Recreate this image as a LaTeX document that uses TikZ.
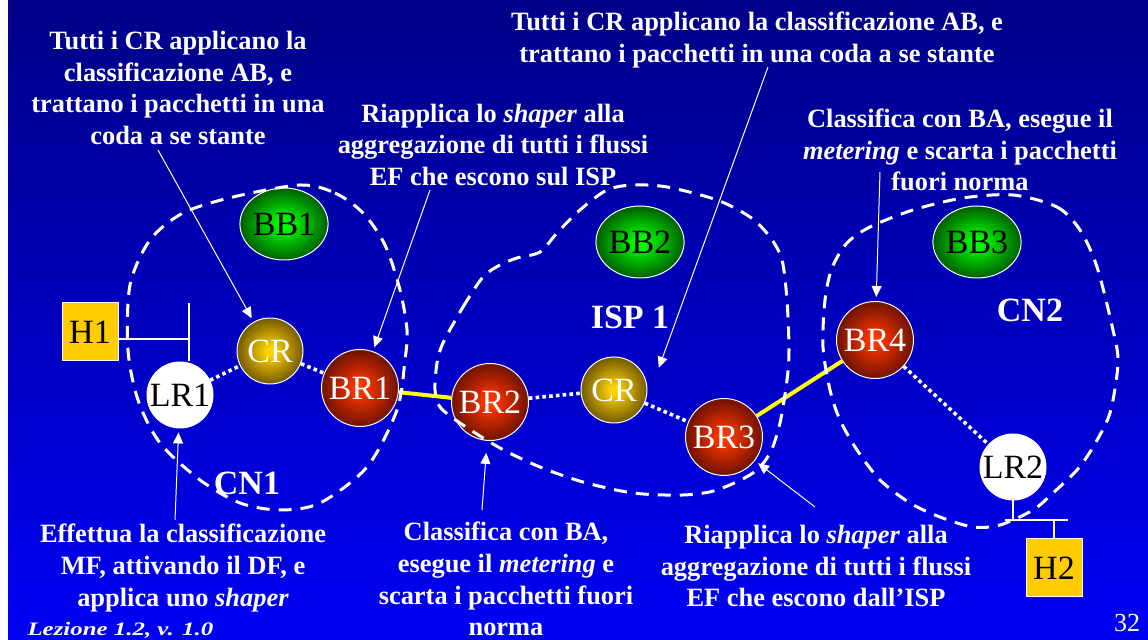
\documentclass[tikz,border=0pt]{standalone}
\usepackage{fontspec}
\setmainfont{Liberation Serif}
\usetikzlibrary{shapes.geometric,arrows.meta}
\definecolor{bghi}{RGB}{0,0,135}
\definecolor{bglo}{RGB}{0,0,245}
\definecolor{brhi}{RGB}{255,55,0}
\definecolor{brlo}{RGB}{110,18,0}
\definecolor{crhi}{RGB}{255,210,0}
\definecolor{crlo}{RGB}{115,90,0}
\definecolor{bbhi}{RGB}{0,255,0}
\definecolor{bblo}{RGB}{0,95,0}
\definecolor{hostcol}{RGB}{255,204,0}
\definecolor{linkcol}{RGB}{255,255,0}
\pgfdeclareradialshading{brball}{\pgfpoint{0bp}{0bp}}{color(0bp)=(brhi); color(3bp)=(brhi); color(25bp)=(brlo); color(50bp)=(brlo)}
\pgfdeclareradialshading{crball}{\pgfpoint{0bp}{0bp}}{color(0bp)=(crhi); color(3bp)=(crhi); color(25bp)=(crlo); color(50bp)=(crlo)}
\pgfdeclareradialshading{bbball}{\pgfpoint{0bp}{0bp}}{color(0bp)=(bbhi); color(3bp)=(bbhi); color(25bp)=(bblo); color(50bp)=(bblo)}

\begin{document}
\begin{tikzpicture}[x=0.5pt,y=-0.5pt,
    router/.style={circle,draw=white,line width=0.5pt,inner sep=0pt,font=\fontsize{17}{17}\selectfont},
    br/.style={router,shade,shading=brball,minimum size=38.5pt,text=white},
    cr/.style={router,shade,shading=crball,minimum size=33pt,text=white},
    lr/.style={router,fill=white,minimum size=33pt,text=black},
    bb/.style={ellipse,draw=white,line width=0.5pt,inner sep=0pt,shade,shading=bbball,
      minimum width=39.5pt,minimum height=36pt,font=\fontsize{17}{17}\selectfont},
    host/.style={draw=white,line width=0.5pt,fill=hostcol,minimum width=28pt,minimum height=29pt,
      inner sep=0pt,font=\fontsize{17}{17}\selectfont},
    note/.style={text=white,align=center,inner sep=0pt,font=\fontsize{13.2}{15.9}\selectfont\bfseries},
    area/.style={text=white,inner sep=0pt,font=\fontsize{17}{17}\selectfont\bfseries},
    cloud/.style={white,line width=1.5pt,dash pattern=on 6.5pt off 4.5pt},
    intra/.style={white,line width=1.8pt,dash pattern=on 1.8pt off 1.6pt},
    trunk/.style={linkcol,line width=2pt},
    wire/.style={white,line width=1pt},
    pointer/.style={white,line width=0.5pt,-{Triangle[length=5.5pt,width=5pt]},shorten >=2pt}]

% backdrop
\useasboundingbox (0,0) rectangle (1148,640);
\fill[white] (0,0) rectangle (8,640);
\shade[top color=bghi,bottom color=bglo] (8,0) rectangle (1148,640);

% routers and bandwidth brokers
\node[lr] (lr1) at (180,395) {LR1};
\node[cr] (cr1) at (270,351) {CR};
\node[br] (br1) at (360,388) {BR1};
\node[bb] (bb1) at (284,224) {BB1};
\node[br] (br2) at (490,402) {BR2};
\node[cr] (cr2) at (614,390) {CR};
\node[br] (br3) at (724,437) {BR3};
\node[bb] (bb2) at (640,242) {BB2};
\node[br] (br4) at (875,340) {BR4};
\node[lr] (lr2) at (1013,467) {LR2};
\node[bb] (bb3) at (977,242) {BB3};

% hosts
\node[host] (h1) at (90,332) {H1};
\node[host] (h2) at (1054,568) {H2};
\coordinate (t1) at (189,303);
\coordinate (t2) at (1013,520);
\draw[wire] (t1) -- (t1 |- lr1.north);
\draw[wire] ([yshift=-3.5pt]h1.east) -- ([yshift=-3.5pt]h1.east -| t1);
\draw[wire] (lr2.south) -- (t2);
\draw[wire] ([xshift=-4pt]t2) -- ([xshift=27.5pt]t2);
\draw[wire] (h2.north) -- (h2.north |- t2);

% links
\draw[intra] (lr1) -- (cr1);
\draw[intra] (cr1) -- (br1);
\draw[trunk] (br1) -- (br2);
\draw[intra] (br2) -- (cr2);
\draw[intra] (cr2) -- (br3);
\draw[trunk] (br3) -- (br4);
\draw[intra] (br4) -- (lr2);

% domain borders
\draw[cloud] plot[smooth cycle] coordinates {(300,185) (335,193) (363,213) (385,245) (400,290)
  (407,330) (405,360) (397,410) (367,467) (320,503) (280,510) (240,503) (200,480) (160,443)
  (138,400) (128,350) (130,285) (150,240) (183,213) (233,197)};
\draw[cloud] plot[smooth cycle] coordinates {(443,343) (463,307) (483,277) (500,265) (517,258)
  (540,252) (557,233) (580,210) (607,190) (633,185) (667,187) (717,200) (750,217) (770,237)
  (782,260) (787,300) (789,350) (787,380) (780,423) (770,453) (753,473) (717,490) (683,495)
  (633,493) (583,482) (540,467) (500,448) (460,423) (440,407) (435,390) (437,363)};
\draw[cloud] plot[smooth cycle] coordinates {(1013,195) (1057,207) (1080,230) (1097,267)
  (1113,330) (1118,363) (1110,413) (1093,447) (1077,470) (1053,493) (1033,510) (1000,525)
  (973,527) (940,517) (910,503) (880,480) (857,450) (840,420) (830,390) (823,347) (825,300)
  (832,268) (847,243) (870,227) (913,210) (963,198)};

\node[area] (cn1) at (247,483) {CN1};
\node[area] (isp) at (630,317) {ISP 1};
\node[area] (cn2) at (1030,310) {CN2};

% notes
\node[note] (n1) at (178,88) {Tutti i CR applicano la\\classificazione AB, e\\trattano i pacchetti in una\\coda a se stante};
\node[note] (n2) at (493,145) {Riapplica lo \textit{shaper} alla\\aggregazione di tutti i flussi\\EF che escono sul ISP};
\node[note] (n3) at (757,40) {Tutti i CR applicano la classificazione AB, e\\trattano i pacchetti in una coda a se stante};
\node[note] (n4) at (960,150) {Classifica con BA, esegue il\\\textit{metering} e scarta i pacchetti\\fuori norma};
\node[note] (n5) at (183,568) {Effettua la classificazione\\MF, attivando il DF, e\\applica uno \textit{shaper}};
\node[note] (n6) at (506,579) {Classifica con BA,\\esegue il \textit{metering} e\\scarta i pacchetti fuori\\norma};
\node[note] (n7) at (816,566) {Riapplica lo \textit{shaper} alla\\aggregazione di tutti i flussi\\EF che escono dall'ISP};

\node[text=white,anchor=base west,inner sep=0pt,font=\fontsize{9.5}{9.5}\selectfont\bfseries\itshape,xscale=1.31]
  (foot) at (27,636) {Lezione 1.2, v. 1.0};
\node[text=white,inner sep=0pt,font=\fontsize{13}{13}\selectfont] (page) at (1127,623) {32};

% pointers
\coordinate (p1) at (158,150);
\coordinate (p2) at (430,190);
\coordinate (p3) at (768,67);
\coordinate (p4) at (880,172);
\coordinate (p5) at (175,520);
\coordinate (p6) at (482,510);
\coordinate (p7) at (815,507);
\draw[pointer] (p1) -- (cr1);
\draw[pointer] (p2) -- (br1);
\draw[pointer] (p3) -- ([xshift=6pt,yshift=3.5pt]cr2.20);
\draw[pointer] (p4) -- (br4);
\draw[pointer] (p5) -- (lr1);
\draw[pointer,shorten >=6pt] (p6) -- (br2);
\draw[pointer] (p7) -- (br3);
\end{tikzpicture}
\end{document}
